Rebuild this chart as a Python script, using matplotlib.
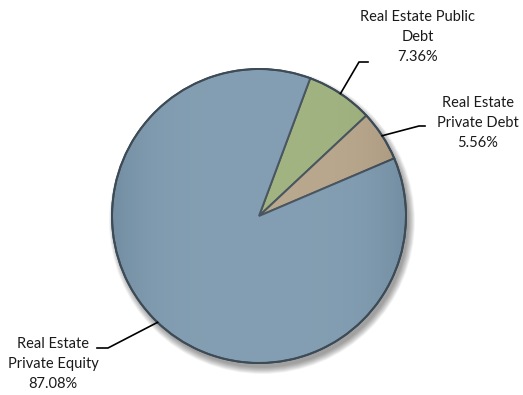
import numpy as np
import matplotlib
matplotlib.use("Agg")
import matplotlib.pyplot as plt
from matplotlib.patches import Circle

# allocation shares, in drawing order (clockwise from the green wedge)
labels = ["Real Estate Public\nDebt", "Real Estate\nPrivate Debt", "Real Estate\nPrivate Equity"]
shares = [7.36, 5.56, 87.08]
colors = ["#9aae78", "#b4a286", "#7b98ad"]

# pie placement in pixel coordinates
cx, cy, r = 259, 216, 147
start = 69.6

fig = plt.figure(figsize=(5.23, 3.95), dpi=100)
ax = fig.add_axes([0, 0, 1, 1])

# soft drop shadow
for k in range(12):
    ax.add_patch(Circle((cx + 3, cy + 5), r + 6 - k * 0.6, color="black",
                        alpha=0.035, lw=0, zorder=1))

# y axis is flipped, so counterclock=True turns clockwise on screen
wedges, _ = ax.pie(shares, colors=colors, startangle=-start, counterclock=True,
                   center=(cx, cy), radius=r, frame=True,
                   wedgeprops=dict(edgecolor="#3d4b56", linewidth=1.4))
for w in wedges:
    w.set_zorder(3)

# faint horizontal shading across the disc
grad = np.linspace(-1, 1, 300)
shade = np.tile(1 - np.abs(grad) ** 3, (300, 1))
im = ax.imshow(shade, extent=(cx - r, cx + r, cy + r, cy - r), cmap="Greys_r",
               alpha=0.07, zorder=4, vmin=0, vmax=1)
im.set_clip_path(Circle((cx, cy), r, transform=ax.transData))
ax.add_patch(Circle((cx, cy), r, fill=False, ec="#3d4b56", lw=1.4, zorder=5))
ax.set_xlim(0, 523)
ax.set_ylim(395, 0)
ax.set_aspect("equal")
ax.axis("off")

# label text positions and leader elbows (pixels)
text_pos = [(418, 37), (478, 123), (53, 364)]
elbows = [[(368, 62), (359, 62)], [(425, 126), (419, 126)], [(97, 348), (108, 348)]]

for w, lab, val, tp, el in zip(wedges, labels, shares, text_pos, elbows):
    mid = np.deg2rad((w.theta1 + w.theta2) / 2)
    ex = cx + r * np.cos(mid)
    ey = cy + r * np.sin(mid)
    xs = [el[0][0], el[1][0], ex]
    ys = [el[0][1], el[1][1], ey]
    ax.plot(xs, ys, color="black", lw=1.2, zorder=6)
    ax.text(tp[0], tp[1], f"{lab}\n{val:.2f}%", ha="center", va="center",
            fontsize=10.5, family="Lato", linespacing=1.55, color="#1a1a1a")

fig.savefig("out.png", dpi=100)
